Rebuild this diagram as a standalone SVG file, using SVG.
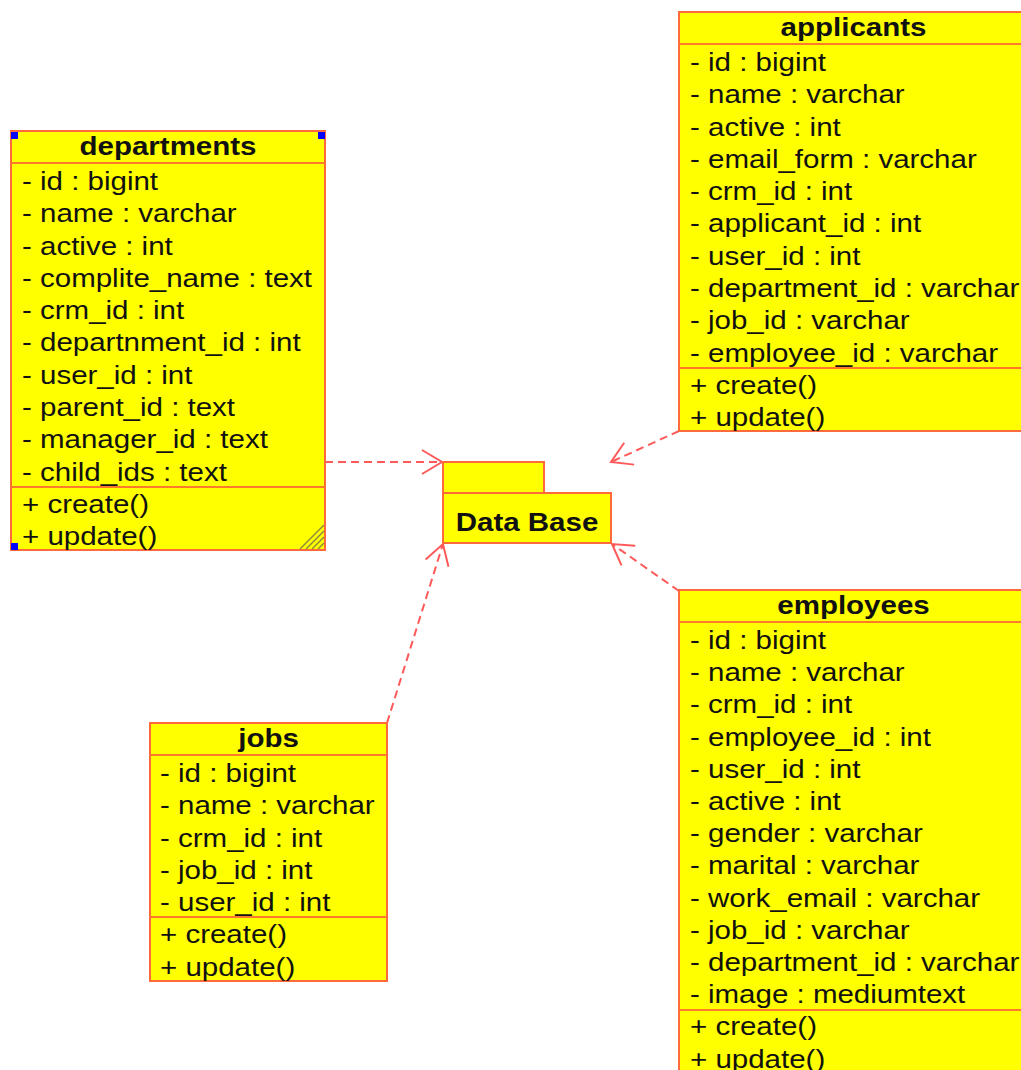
<svg xmlns="http://www.w3.org/2000/svg" width="1021" height="1070" viewBox="0 0 1021 1070">
<style>
.box{fill:#ffff00;stroke:#ff6a3d;stroke-width:2}
.div{stroke:#ff7a2a;stroke-width:2}
.t{font-family:"Liberation Sans",Arial,sans-serif;font-size:25px;fill:#111}
.h{font-family:"Liberation Sans",Arial,sans-serif;font-size:25px;font-weight:bold;fill:#111;text-anchor:middle}
.con{fill:none;stroke:#ff5a5a;stroke-width:2;stroke-dasharray:8 5}
.hd{fill:none;stroke:#ff5a5a;stroke-width:2}
.sel{fill:#0000ff}
.hatch{stroke:#8a8a3a;stroke-width:1.5}
</style>
<defs>
<marker id="arr" markerUnits="userSpaceOnUse" markerWidth="30" markerHeight="30" refX="0" refY="0" viewBox="-24 -15 26 30" orient="auto">
<path d="M-20,-12 L0,0 L-20,12" class="hd"/>
</marker>
</defs>

<g id="connectors">
<line class="con" x1="325" y1="462" x2="442" y2="462" marker-end="url(#arr)"/>
<line class="con" x1="679" y1="431" x2="611" y2="462" marker-end="url(#arr)"/>
<line class="con" x1="387" y1="723" x2="443" y2="544" marker-end="url(#arr)"/>
<line class="con" x1="679" y1="591" x2="612" y2="544" marker-end="url(#arr)"/>
</g>

<g id="database">
<rect class="box" x="443" y="462" width="101" height="31"/>
<rect class="box" x="443" y="493" width="168" height="50"/>
<text class="h" transform="translate(527,531) scale(1.18,1)">Data Base</text>
</g>

<g id="departments">
<rect class="box" x="11" y="131" width="314" height="419"/>
<line class="div" x1="11" y1="163" x2="325" y2="163"/>
<line class="div" x1="11" y1="487" x2="325" y2="487"/>
<text class="h" transform="translate(168,155) scale(1.18,1)">departments</text>
<g transform="translate(22,0) scale(1.18,1)">
<text class="t" x="0" y="190">- id : bigint</text>
<text class="t" x="0" y="222.3">- name : varchar</text>
<text class="t" x="0" y="254.6">- active : int</text>
<text class="t" x="0" y="286.9">- complite_name : text</text>
<text class="t" x="0" y="319.2">- crm_id : int</text>
<text class="t" x="0" y="351.5">- departnment_id : int</text>
<text class="t" x="0" y="383.8">- user_id : int</text>
<text class="t" x="0" y="416.1">- parent_id : text</text>
<text class="t" x="0" y="448.4">- manager_id : text</text>
<text class="t" x="0" y="480.7">- child_ids : text</text>
<text class="t" x="0" y="513">+ create()</text>
<text class="t" x="0" y="545.3">+ update()</text>
</g>
<rect class="sel" x="11" y="132" width="7" height="7"/>
<rect class="sel" x="318" y="132" width="7" height="7"/>
<rect class="sel" x="11" y="543" width="7" height="7"/>
<line class="hatch" x1="300" y1="549" x2="324" y2="525"/>
<line class="hatch" x1="306" y1="549" x2="324" y2="531"/>
<line class="hatch" x1="312" y1="549" x2="324" y2="537"/>
<line class="hatch" x1="318" y1="549" x2="324" y2="543"/>
</g>

<g id="applicants">
<rect class="box" x="679" y="12" width="350" height="419"/>
<line class="div" x1="679" y1="44" x2="1029" y2="44"/>
<line class="div" x1="679" y1="368" x2="1029" y2="368"/>
<text class="h" transform="translate(853.5,36) scale(1.18,1)">applicants</text>
<g transform="translate(690,0) scale(1.18,1)">
<text class="t" x="0" y="71">- id : bigint</text>
<text class="t" x="0" y="103.3">- name : varchar</text>
<text class="t" x="0" y="135.6">- active : int</text>
<text class="t" x="0" y="167.9">- email_form : varchar</text>
<text class="t" x="0" y="200.2">- crm_id : int</text>
<text class="t" x="0" y="232.5">- applicant_id : int</text>
<text class="t" x="0" y="264.8">- user_id : int</text>
<text class="t" x="0" y="297.1">- department_id : varchar</text>
<text class="t" x="0" y="329.4">- job_id : varchar</text>
<text class="t" x="0" y="361.7">- employee_id : varchar</text>
<text class="t" x="0" y="394">+ create()</text>
<text class="t" x="0" y="426.3">+ update()</text>
</g>
</g>

<g id="employees">
<rect class="box" x="679" y="590" width="350" height="500"/>
<line class="div" x1="679" y1="622" x2="1029" y2="622"/>
<line class="div" x1="679" y1="1010" x2="1029" y2="1010"/>
<text class="h" transform="translate(853.5,614) scale(1.18,1)">employees</text>
<g transform="translate(690,0) scale(1.18,1)">
<text class="t" x="0" y="649">- id : bigint</text>
<text class="t" x="0" y="681.2">- name : varchar</text>
<text class="t" x="0" y="713.4">- crm_id : int</text>
<text class="t" x="0" y="745.6">- employee_id : int</text>
<text class="t" x="0" y="777.8">- user_id : int</text>
<text class="t" x="0" y="810">- active : int</text>
<text class="t" x="0" y="842.2">- gender : varchar</text>
<text class="t" x="0" y="874.4">- marital : varchar</text>
<text class="t" x="0" y="906.6">- work_email : varchar</text>
<text class="t" x="0" y="938.8">- job_id : varchar</text>
<text class="t" x="0" y="971">- department_id : varchar</text>
<text class="t" x="0" y="1003.2">- image : mediumtext</text>
<text class="t" x="0" y="1035.4">+ create()</text>
<text class="t" x="0" y="1067.6">+ update()</text>
</g>
</g>

<g id="jobs">
<rect class="box" x="150" y="723" width="237" height="258"/>
<line class="div" x1="150" y1="755" x2="387" y2="755"/>
<line class="div" x1="150" y1="917" x2="387" y2="917"/>
<text class="h" transform="translate(268.5,747) scale(1.18,1)">jobs</text>
<g transform="translate(160,0) scale(1.18,1)">
<text class="t" x="0" y="782">- id : bigint</text>
<text class="t" x="0" y="814.3">- name : varchar</text>
<text class="t" x="0" y="846.6">- crm_id : int</text>
<text class="t" x="0" y="878.9">- job_id : int</text>
<text class="t" x="0" y="911.2">- user_id : int</text>
<text class="t" x="0" y="943.5">+ create()</text>
<text class="t" x="0" y="975.8">+ update()</text>
</g>
</g>
</svg>
